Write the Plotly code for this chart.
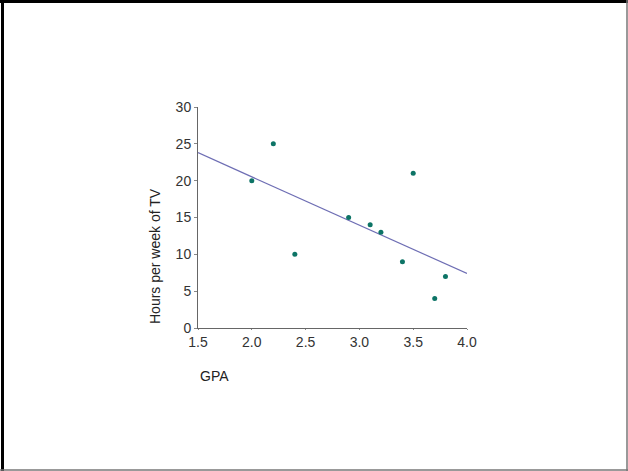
import plotly.graph_objects as go

gpa = [2.0, 2.2, 2.4, 2.9, 3.1, 3.2, 3.4, 3.5, 3.7, 3.8]
tv_hours = [20, 25, 10, 15, 14, 13, 9, 21, 4, 7]
fit_x = [1.5, 4.0]
fit_y = [23.8, 7.4]
x_ticks = [1.5, 2.0, 2.5, 3.0, 3.5, 4.0]
x_ticklabels = ["1.5", "2.0", "2.5", "3.0", "3.5", "4.0"]
y_ticks = [0, 5, 10, 15, 20, 25, 30]

W, H = 628, 471
ML, MR, MT, MB = 198, 161, 107, 143
PW, PH = W - ML - MR, H - MT - MB

def px(X):
    return (X - ML) / PW

def py(Y):
    return (H - MB - Y) / PH

font = "Liberation Sans, Arial, sans-serif"

fig = go.Figure()
fig.add_trace(go.Scatter(x=fit_x, y=fit_y, mode="lines",
                         line=dict(color="#6e6eb4", width=1.2),
                         hoverinfo="skip", showlegend=False))
fig.add_trace(go.Scatter(x=gpa, y=tv_hours, mode="markers",
                         marker=dict(color="#0d7466", size=5),
                         showlegend=False))

axis_common = dict(showgrid=False, zeroline=False, showline=True,
                   linecolor="#666666", linewidth=1, ticks="outside",
                   tickcolor="#888888",
                   tickfont=dict(family=font, size=14, color="#333333"))

fig.update_xaxes(range=[1.5, 4.0], tickvals=x_ticks, ticktext=x_ticklabels,
                 ticklen=1, **axis_common)
fig.update_yaxes(range=[0, 30], tickvals=y_ticks, ticklen=3, **axis_common)

fig.update_layout(
    width=W, height=H,
    margin=dict(l=ML, r=MR, t=MT, b=MB, pad=0),
    paper_bgcolor="white", plot_bgcolor="white",
    annotations=[
        dict(text="Hours per week of TV", xref="paper", yref="paper",
             x=px(155), y=py(256), xanchor="center", yanchor="middle",
             textangle=-90, showarrow=False,
             font=dict(family=font, size=14, color="#222222")),
        dict(text="GPA", xref="paper", yref="paper",
             x=px(198), y=py(376), xanchor="left", yanchor="middle",
             showarrow=False,
             font=dict(family=font, size=14, color="#222222")),
    ],
    shapes=[
        dict(type="line", xref="paper", yref="paper",
             x0=px(0), x1=px(628), y0=py(1.5), y1=py(1.5),
             line=dict(color="black", width=3)),
        dict(type="line", xref="paper", yref="paper",
             x0=px(2.5), x1=px(2.5), y0=py(0), y1=py(471),
             line=dict(color="black", width=3)),
        dict(type="line", xref="paper", yref="paper",
             x0=px(0), x1=px(628), y0=py(470), y1=py(470),
             line=dict(color="#777777", width=1.5)),
        dict(type="line", xref="paper", yref="paper",
             x0=px(627), x1=px(627), y0=py(0), y1=py(471),
             line=dict(color="#777777", width=1.5)),
    ],
)

fig.write_html("out.html",
               config={"displayModeBar": False},
               post_script="document.body.style.margin='0';"
                           "document.body.style.overflow='hidden';")
